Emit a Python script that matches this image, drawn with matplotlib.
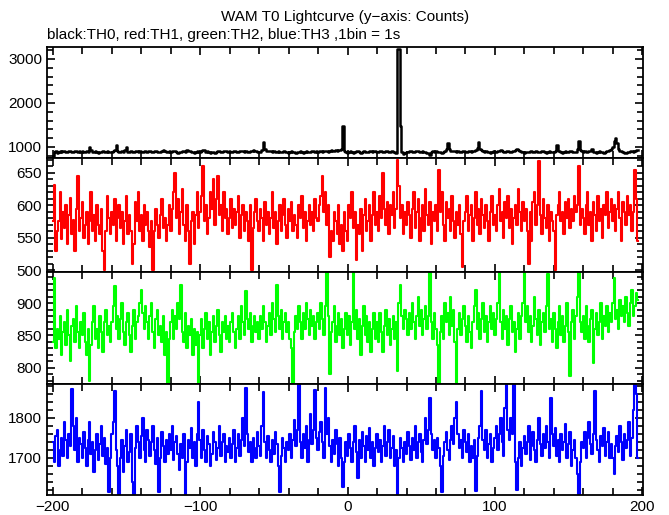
import numpy as np
import matplotlib
matplotlib.use("Agg")
import matplotlib.pyplot as plt
from matplotlib.ticker import MultipleLocator

plt.rcParams['font.family'] = ['Liberation Sans', 'DejaVu Sans']

# WAM T0 lightcurve, 1 s bins starting at t = -200 s
th0 = [
    790, 880, 905, 870, 895, 910, 885, 900, 920, 890, 875, 905, 915, 895, 880, 900, 910, 890, 905, 885,
    900, 895, 880, 905, 890, 1000, 930, 890, 875, 900, 885, 870, 895, 880, 905, 890, 875, 900, 885, 895,
    880, 905, 930, 1040, 900, 885, 895, 910, 880, 935, 1000, 890, 875, 905, 895, 880, 900, 915, 890, 905,
    895, 880, 910, 900, 885, 905, 920, 895, 880, 900, 910, 890, 875, 895, 905, 930, 900, 885, 895, 910,
    890, 900, 920, 905, 885, 860, 880, 895, 910, 900, 890, 935, 920, 905, 890, 880, 870, 895, 905, 890,
    880, 910, 940, 925, 890, 900, 875, 860, 880, 895, 870, 885, 900, 915, 895, 880, 905, 920, 900, 890,
    905, 895, 880, 900, 915, 895, 885, 905, 920, 900, 890, 905, 895, 880, 900, 910, 925, 900, 905, 890,
    880, 895, 930, 1110, 950, 915, 905, 920, 900, 890, 910, 895, 880, 900, 885, 875, 895, 905, 890, 880,
    870, 885, 900, 895, 880, 860, 875, 890, 900, 880, 870, 890, 905, 885, 875, 895, 910, 900, 890, 905,
    895, 910, 900, 885, 905, 920, 900, 890, 910, 925, 905, 915, 930, 920, 940, 935, 950, 1480, 900, 880,
    870, 890, 905, 880, 865, 895, 910, 900, 880, 870, 890, 905, 885, 875, 895, 910, 900, 885, 905, 920,
    895, 880, 900, 915, 895, 880, 900, 910, 895, 885, 905, 890, 880, 870, 3230, 3230, 1480, 880, 840, 870,
    890, 880, 900, 910, 895, 880, 905, 915, 900, 885, 890, 905, 895, 880, 860, 870, 820, 880, 905, 895,
    900, 885, 895, 880, 870, 890, 905, 960, 1090, 950, 915, 900, 920, 905, 890, 905, 895, 880, 900, 910,
    895, 880, 900, 910, 895, 905, 920, 930, 970, 1110, 960, 925, 900, 885, 905, 895, 880, 870, 890, 905,
    890, 875, 900, 915, 930, 905, 890, 880, 900, 910, 895, 880, 905, 920, 935, 960, 930, 900, 885, 895,
    870, 880, 895, 885, 900, 910, 895, 880, 905, 890, 875, 895, 910, 900, 885, 870, 890, 905, 895, 880,
    895, 910, 1050, 920, 900, 885, 870, 890, 905, 895, 880, 900, 915, 895, 885, 880, 960, 1140, 930, 900,
    885, 905, 895, 880, 900, 910, 960, 895, 880, 870, 890, 905, 895, 880, 870, 890, 900, 910, 940, 960,
    1010, 1140, 1200, 1080, 950, 910, 900, 885, 870, 860, 880, 875, 900, 915, 890, 905, 925, 940,
]

th1 = [
    575, 632, 530, 560, 575, 620, 548, 590, 565, 600, 540, 585, 612, 555, 578, 530, 595, 645, 560, 580,
    605, 550, 570, 590, 540, 575, 620, 560, 585, 545, 600, 570, 555, 595, 530, 500, 560, 615, 580, 555,
    590, 570, 610, 545, 580, 600, 565, 590, 540, 575, 615, 555, 585, 560, 510, 540, 605, 575, 620, 560,
    585, 545, 600, 570, 590, 560, 535, 575, 500, 560, 595, 570, 550, 585, 610, 565, 580, 545, 570, 600,
    560, 595, 620, 650, 580, 610, 555, 590, 625, 570, 545, 600, 560, 510, 575, 590, 540, 585, 620, 565,
    590, 615, 660, 575, 600, 555, 580, 620, 595, 640, 570, 610, 645, 585, 600, 560, 620, 580, 595, 555,
    580, 610, 565, 595, 570, 590, 615, 550, 585, 600, 560, 590, 575, 545, 600, 500, 565, 590, 610, 575,
    560, 595, 580, 545, 605, 570, 590, 555, 580, 620, 565, 590, 540, 575, 600, 560, 585, 610, 570, 550,
    595, 575, 605, 560, 585, 570, 550, 600, 580, 615, 565, 590, 545, 575, 600, 570, 590, 560, 610, 580,
    575, 600, 615, 645, 590, 620, 570, 600, 520, 560, 545, 590, 575, 555, 600, 540, 570, 530, 590, 560,
    545, 600, 580, 620, 565, 590, 515, 570, 555, 595, 530, 585, 610, 560, 575, 600, 545, 585, 620, 570,
    590, 560, 615, 580, 650, 595, 570, 605, 555, 600, 585, 620, 565, 595, 670, 630, 580, 600, 555, 590,
    570, 605, 585, 550, 595, 620, 565, 590, 610, 545, 580, 600, 560, 625, 585, 570, 605, 540, 590, 575,
    600, 560, 655, 590, 620, 570, 545, 605, 580, 595, 560, 615, 575, 550, 590, 570, 600, 555, 505, 575,
    590, 615, 560, 585, 600, 545, 580, 620, 570, 595, 555, 610, 585, 565, 600, 575, 545, 590, 615, 570,
    585, 560, 600, 625, 575, 590, 550, 605, 580, 615, 565, 595, 540, 580, 600, 570, 625, 590, 560, 605,
    575, 595, 560, 510, 590, 545, 605, 620, 570, 600, 668, 585, 555, 610, 580, 565, 600, 545, 590, 575,
    560, 500, 585, 600, 620, 575, 590, 555, 605, 580, 610, 565, 595, 575, 615, 590, 600, 660, 570, 595,
    580, 555, 600, 620, 570, 590, 545, 605, 585, 560, 615, 575, 595, 550, 600, 585, 620, 565, 590, 610,
    575, 600, 560, 595, 620, 580, 545, 605, 590, 570, 615, 585, 600, 560, 590, 655, 610, 545,
]

th2 = [
    840, 938, 830, 860, 845, 880, 820, 855, 870, 835, 890, 850, 810, 865, 875, 840, 895, 855, 830, 870,
    850, 885, 840, 820, 860, 780, 835, 870, 895, 845, 860, 830, 880, 855, 825, 870, 890, 850, 865, 840,
    870, 895, 926, 860, 880, 845, 875, 900, 855, 835, 870, 885, 850, 825, 865, 890, 845, 870, 880, 900,
    920, 885, 860, 895, 870, 845, 880, 900, 855, 830, 875, 890, 850, 865, 840, 880, 820, 855, 777, 845,
    870, 890, 845, 880, 860, 900, 875, 928, 855, 840, 885, 830, 865, 850, 875, 820, 860, 835, 855, 777,
    850, 875, 830, 860, 885, 845, 870, 820, 855, 880, 840, 865, 890, 850, 825, 870, 855, 880, 845, 865,
    840, 870, 885, 855, 830, 860, 880, 845, 895, 870, 850, 918, 875, 860, 885, 840, 865, 880, 855, 870,
    845, 880, 860, 895, 870, 840, 865, 885, 850, 900, 875, 855, 928, 880, 860, 890, 845, 870, 885, 855,
    870, 845, 830, 777, 855, 880, 860, 895, 870, 845, 885, 860, 900, 875, 850, 890, 865, 880, 845, 870,
    885, 860, 900, 875, 850, 895, 949, 880, 790, 855, 870, 895, 840, 865, 885, 850, 875, 830, 860, 885,
    850, 880, 835, 870, 949, 860, 890, 845, 875, 820, 865, 895, 850, 880, 840, 870, 825, 860, 885, 845,
    870, 840, 885, 855, 825, 865, 890, 850, 875, 835, 860, 880, 845, 870, 795, 900, 928, 880, 860, 890,
    875, 850, 885, 860, 900, 870, 845, 880, 910, 865, 890, 850, 875, 895, 860, 880, 948, 870, 845, 885,
    860, 835, 775, 855, 880, 845, 900, 870, 885, 850, 910, 865, 890, 840, 775, 860, 885, 850, 875, 895,
    865, 840, 880, 855, 830, 870, 895, 920, 860, 885, 845, 875, 900, 855, 880, 840, 870, 895, 860, 885,
    850, 875, 900, 949, 870, 845, 890, 860, 880, 835, 875, 895, 855, 870, 825, 860, 885, 845, 880, 900,
    949, 870, 895, 855, 880, 840, 865, 910, 875, 850, 890, 835, 870, 885, 855, 895, 945, 860, 875, 840,
    885, 860, 830, 870, 895, 850, 880, 840, 865, 900, 855, 787, 870, 890, 845, 880, 910, 949, 870, 855,
    880, 845, 895, 865, 840, 875, 890, 808, 860, 885, 850, 870, 900, 845, 880, 865, 895, 855, 885, 870,
    900, 938, 875, 890, 860, 905, 880, 895, 870, 910, 885, 865, 900, 920, 880, 895, 915, 905,
]

th3 = [
    1740, 1690, 1755, 1770, 1680, 1720, 1750, 1705, 1790, 1745, 1700, 1760, 1730, 1872, 1780, 1720, 1800, 1690, 1750, 1735,
    1700, 1765, 1725, 1680, 1745, 1790, 1710, 1740, 1665, 1720, 1760, 1695, 1735, 1780, 1705, 1750, 1685, 1725, 1614, 1700,
    1760, 1790, 1868, 1720, 1680, 1610, 1700, 1745, 1665, 1730, 1770, 1690, 1715, 1760, 1640, 1610, 1725, 1780, 1740, 1700,
    1755, 1800, 1720, 1690, 1770, 1745, 1705, 1740, 1780, 1720, 1685, 1750, 1614, 1700, 1765, 1730, 1690, 1745, 1710, 1760,
    1720, 1780, 1695, 1740, 1755, 1710, 1670, 1735, 1700, 1760, 1610, 1690, 1745, 1725, 1775, 1700, 1740, 1680, 1760, 1840,
    1745, 1700, 1770, 1720, 1690, 1755, 1735, 1680, 1710, 1765, 1740, 1695, 1725, 1780, 1705, 1740, 1760, 1690, 1730, 1715,
    1750, 1700, 1735, 1770, 1690, 1725, 1760, 1705, 1745, 1800, 1730, 1876, 1760, 1715, 1740, 1690, 1750, 1725, 1700, 1765,
    1730, 1705, 1780, 1865, 1740, 1700, 1755, 1720, 1690, 1745, 1710, 1765, 1735, 1680, 1614, 1705, 1750, 1725, 1690, 1740,
    1720, 1760, 1700, 1745, 1795, 1730, 1770, 1884, 1740, 1700, 1760, 1725, 1780, 1690, 1745, 1810, 1735, 1770, 1870, 1750,
    1720, 1765, 1790, 1740, 1700, 1875, 1760, 1800, 1730, 1690, 1745, 1710, 1770, 1735, 1680, 1750, 1700, 1626, 1690, 1740,
    1705, 1760, 1725, 1690, 1740, 1780, 1715, 1650, 1745, 1700, 1765, 1730, 1690, 1755, 1720, 1775, 1700, 1740, 1680, 1725,
    1760, 1715, 1745, 1690, 1730, 1780, 1705, 1740, 1770, 1700, 1725, 1755, 1680, 1720, 1610, 1700, 1750, 1725, 1690, 1740,
    1710, 1765, 1730, 1695, 1750, 1720, 1780, 1700, 1740, 1760, 1715, 1690, 1745, 1800, 1735, 1770, 1850, 1760, 1720, 1745,
    1700, 1750, 1725, 1680, 1614, 1705, 1740, 1765, 1720, 1695, 1745, 1780, 1735, 1800, 1840, 1760, 1725, 1745, 1700, 1770,
    1740, 1715, 1760, 1690, 1730, 1700, 1745, 1618, 1705, 1750, 1780, 1868, 1745, 1720, 1770, 1700, 1735, 1760, 1690, 1725,
    1750, 1780, 1720, 1760, 1800, 1740, 1705, 1825, 1887, 1770, 1745, 1800, 1760, 1885, 1690, 1620, 1700, 1740, 1680, 1725,
    1755, 1710, 1740, 1780, 1695, 1730, 1765, 1720, 1690, 1745, 1800, 1735, 1705, 1760, 1725, 1780, 1740, 1700, 1850, 1760,
    1730, 1775, 1705, 1745, 1690, 1760, 1720, 1740, 1785, 1700, 1735, 1765, 1680, 1720, 1745, 1700, 1660, 1610, 1690, 1740,
    1725, 1765, 1700, 1750, 1790, 1735, 1710, 1760, 1868, 1745, 1720, 1690, 1755, 1730, 1775, 1705, 1740, 1765, 1700, 1735,
    1700, 1660, 1730, 1755, 1715, 1780, 1740, 1695, 1760, 1725, 1745, 1790, 1705, 1750, 1820, 1885, 1860, 1700,
]

series = [th0, th1, th2, th3]
colors = ['black', '#ff0000', '#00ff00', '#0000ff']
widths = [1.8, 1.5, 1.5, 1.5]
ylims = [(750, 3270), (497, 673), (775, 948), (1607, 1885)]
majors = [1000, 50, 50, 100]
minors = [200, 10, 10, 20]
t_start = -200

fig = plt.figure(figsize=(6.69, 5.15), dpi=100)
W, H = 669.0, 515.0
left, right = 47, 643
edges = [47, 158, 272, 384, 495]

for i, y in enumerate(series):
    top, bot = edges[i], edges[i + 1]
    ax = fig.add_axes([left / W, 1 - bot / H, (right - left) / W, (bot - top) / H])
    t = np.arange(len(y)) + t_start
    ax.plot(t, y, drawstyle='steps-mid', color=colors[i], lw=widths[i])
    ax.set_xlim(-204, 200.5)
    ax.set_ylim(*ylims[i])
    ax.xaxis.set_major_locator(MultipleLocator(100))
    ax.xaxis.set_minor_locator(MultipleLocator(20))
    ax.yaxis.set_major_locator(MultipleLocator(majors[i]))
    ax.yaxis.set_minor_locator(MultipleLocator(minors[i]))
    ax.tick_params(which='both', direction='in', top=True, right=True, width=1.2, labelsize=11)
    ax.tick_params(which='major', length=6)
    ax.tick_params(which='minor', length=4)
    ax.tick_params(axis='x', which='minor', length=5)
    for s in ax.spines.values():
        s.set_linewidth(1.3)
    if i < 3:
        ax.tick_params(labelbottom=False)

fig.text(345 / W, 1 - 17 / H, 'WAM T0 Lightcurve (y\u2212axis: Counts)', ha='center', va='center', fontsize=11)
fig.text(47 / W, 1 - 35 / H, 'black:TH0, red:TH1, green:TH2, blue:TH3 ,1bin = 1s', ha='left', va='center', fontsize=11)

fig.savefig('out.png', dpi=100)
